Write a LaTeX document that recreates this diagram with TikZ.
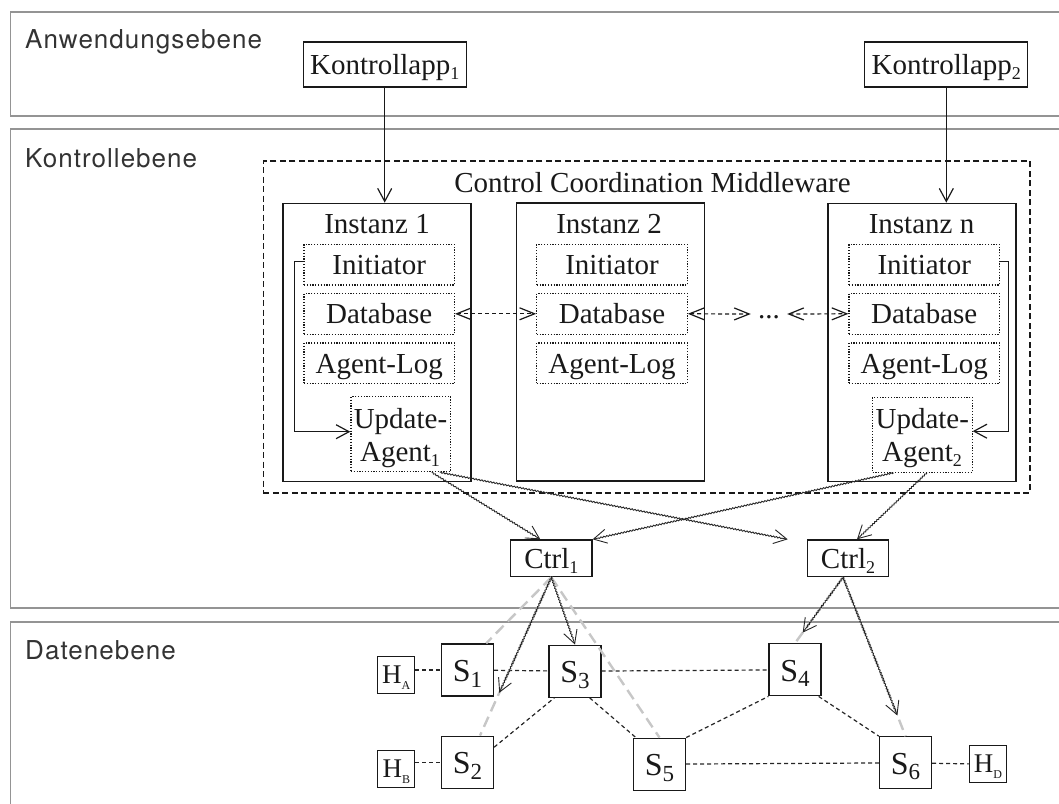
\documentclass[tikz,border=0pt]{standalone}
\usepackage{fontspec}
\setmainfont{Liberation Serif}
\newfontfamily\layerfont[LetterSpace=4]{TeX Gyre Heros}
\usetikzlibrary{arrows.meta,decorations.pathmorphing,calc}

\newcommand\nfont{\fontsize{29}{34}\selectfont}
\newcommand\lowsub[1]{\raisebox{-5pt}{\fontsize{18}{18}\selectfont #1}}
\newcommand\swsub[1]{\raisebox{-5.5pt}{\fontsize{23}{23}\selectfont #1}}
\newcommand\hostsub[1]{\raisebox{-6pt}{\fontsize{12}{12}\selectfont #1}}

\begin{document}
\begin{tikzpicture}[x=1pt, y=-1pt,
  layer/.style={draw=black!42, line width=1.6pt},
  layertitle/.style={font=\layerfont\fontsize{26}{30}\selectfont, text=black!80, anchor=base west, inner sep=0pt},
  txt/.style={font=\nfont, text=black!90, inner sep=0pt},
  boxtxt/.style={txt, text height=20pt, text depth=0pt},
  app/.style={boxtxt, draw=black!90, line width=1.3pt, minimum width=163pt, minimum height=45pt},
  inst/.style={draw=black!90, line width=1.7pt, minimum width=188pt, minimum height=278pt, inner sep=0pt},
  comp/.style={boxtxt, draw=black!90, line width=1.2pt, dash pattern=on 1.2pt off 1.6pt, minimum width=150.4pt, minimum height=40.7pt},
  agentbox/.style={draw=black!90, line width=1.2pt, dash pattern=on 1.2pt off 1.6pt, minimum width=99.6pt, minimum height=75pt, inner sep=0pt},
  mw/.style={draw=black!90, line width=1.5pt, dash pattern=on 6pt off 3.5pt, minimum width=766.7pt, minimum height=332pt, inner sep=0pt},
  ctrlbox/.style={boxtxt, draw=black!90, line width=1.3pt, minimum width=81.3pt, minimum height=36.7pt},
  switch/.style={txt, font=\fontsize{32}{36}\selectfont, text height=23pt, text depth=0pt, draw=black!90, line width=1.3pt, minimum size=52pt},
  host/.style={txt, font=\fontsize{27}{30}\selectfont, text height=17pt, text depth=0pt, draw=black!90, line width=1.2pt, minimum size=37pt},
  arr/.style={draw=black!90, line width=1.2pt, -{Straight Barb[length=13pt, width=14pt]}},
  dbarr/.style={draw=black!90, line width=1.2pt, dash pattern=on 4pt off 3pt,
    {Straight Barb[length=15pt, width=12pt]}-{Straight Barb[length=15pt, width=12pt]}},
  snk/.style={draw=black!85, line width=0.9pt, -{Straight Barb[length=13pt, width=14pt]},
    decorate, decoration={snake, amplitude=0.6pt, segment length=3pt, post length=5pt}},
  link/.style={draw=black!85, line width=1.2pt, dash pattern=on 4pt off 3pt},
  ctl/.style={draw=black!22, line width=2.4pt, dash pattern=on 11pt off 6pt},
]
\useasboundingbox (0,0) rectangle (1059,803);
\clip (0,0) rectangle (1059,803);

% layers
\draw[layer] (10.5,12) rectangle (1080,116);
\draw[layer] (10.5,129) rectangle (1080,608);
\draw[layer] (10.5,622) rectangle (1080,830);
\node[layertitle] (lAnw) at (25,48) {Anwendungsebene};
\node[layertitle] (lKon) at (25,167) {Kontrollebene};
\node[layertitle] (lDat) at (25,659) {Datenebene};

% applications
\node[app] (app1) at (384.7,64.5) {Kontrollapp\lowsub{1}};
\node[app] (app2) at (946.3,64.5) {Kontrollapp\lowsub{2}};

% middleware and its instances
\node[mw] (mw) at (646.7,327) {};
\node[txt, anchor=base] (mwtitle) at (652.5,192) {Control Coordination Middleware};

\node[inst] (inst1) at (377.3,342.5) {};
\node[inst] (inst2) at (610.5,342.2) {};
\node[inst] (instn) at (922.2,342.5) {};
\node[txt, anchor=base] (t1) at (377,233) {Instanz 1};
\node[txt, anchor=base] (t2) at (609,233) {Instanz 2};
\node[txt, anchor=base] (tn) at (921.5,233) {Instanz n};

\node[comp] (init1) at (379.2,264.7) {Initiator};
\node[comp] (db1)   at (379.2,313.8) {Database};
\node[comp] (log1)  at (379.2,363.3) {Agent-Log};
\node[comp] (init2) at (612,264.7) {Initiator};
\node[comp] (db2)   at (612,313.8) {Database};
\node[comp] (log2)  at (612,363.3) {Agent-Log};
\node[comp] (initn) at (924.2,264.7) {Initiator};
\node[comp] (dbn)   at (924.2,313.8) {Database};
\node[comp] (logn)  at (924.2,363.3) {Agent-Log};

\node[agentbox] (ua1) at (400.7,434.2) {};
\node[txt, anchor=base] (ua1a) at (400.5,428) {Update-};
\node[txt, anchor=base] (ua1b) at (400,461.7) {Agent\lowsub{1}};
\node[agentbox] (uan) at (922.3,434.7) {};
\node[txt, anchor=base] (uana) at (922.3,428.3) {Update-};
\node[txt, anchor=base] (uanb) at (922,461.7) {Agent\lowsub{2}};

\node[txt, text height=8pt, text depth=0pt, minimum width=36pt] (dots) at (769,314) {...};

% controllers
\node[ctrlbox] (ctrl1) at (551.3,558.3) {Ctrl\lowsub{1}};
\node[ctrlbox] (ctrl2) at (848,558.3) {Ctrl\lowsub{2}};

% data plane
\node[host] (HA) at (396.3,675) {H\hostsub{A}};
\node[host] (HB) at (396.3,769) {H\hostsub{B}};
\node[host] (HD) at (988,764.2) {H\hostsub{D}};
\node[switch] (S1) at (467.5,670) {S\swsub{1}};
\node[switch] (S2) at (467.5,762.2) {S\swsub{2}};
\node[switch] (S3) at (575,671.2) {S\swsub{3}};
\node[switch] (S4) at (795,669.8) {S\swsub{4}};
\node[switch] (S5) at (659.5,764.2) {S\swsub{5}};
\node[switch] (S6) at (905.5,762.8) {S\swsub{6}};

% application to instance
\draw[arr] (app1.south) -- (app1.south |- inst1.north);
\draw[arr] (app2.south) -- (app2.south |- instn.north);

% internal loops initiator -> update agent
\draw[arr] ([yshift=3.5pt]init1.west) -- ++(-9,0) |- ([yshift=2.5pt]ua1.west);
\draw[arr] ([yshift=3.5pt]initn.east) -- ++(8.5,0) |- ([yshift=3.5pt]uan.east);

% database synchronisation
\draw[dbarr] (db1.east) -- (db2.west);
\draw[dbarr] (db2.east) -- (dots.west);
\draw[dbarr] (dots.east) -- (dbn.west);

% update agents to controllers
\draw[snk] ([xshift=31pt]ua1.south) -- ([xshift=-11pt]ctrl1.north);
\draw[snk] ([xshift=39pt]ua1.south) -- ([xshift=-19pt]ctrl2.north west);
\draw[snk] ([xshift=-29pt]uan.south) -- (ctrl1.north east);
\draw[snk] ([xshift=4.5pt]uan.south) -- ([xshift=9pt]ctrl2.north);

% data plane links
\draw[link] (S1.west -| HA.east) -- (S1.west);
\draw[link] (S1) -- (S3);
\draw[link] (S3) -- (S4);
\draw[link] (S2.west -| HB.east) -- (S2.west);
\draw[link] ([yshift=15pt]S2.east) -- ([xshift=6pt]S3.south west);
\draw[link] ([xshift=-12pt]S3.south east) -- ([xshift=3pt]S5.north west);
\draw[link] (S5.north east) -- (S4.south west);
\draw[link] ([xshift=-3pt]S4.south east) -- (S6.north west);
\draw[link] (S5) -- (S6);
\draw[link] (S6) -- (HD);

% control channels
\coordinate (c1o) at (ctrl1.south);
\coordinate (c2o) at ([xshift=-5pt]ctrl2.south);
\coordinate (s1hit) at ([xshift=-8pt]S1.north east);
\coordinate (s2hit) at ([xshift=12.5pt]S2.north);
\draw[ctl] (c1o) -- (s1hit);
\draw[ctl] (c1o) -- (s2hit);
\draw[ctl] (c1o) -- (S5.north);
\draw[ctl] (c2o) -- (S4.north);
\draw[ctl] (c2o) -- (S6.north);

% update messages to switches
\coordinate (tipS2) at ($(c1o)!0.73!(s2hit)$);
\coordinate (tipS4) at ($(c2o)!0.84!(S4.north)$);
\coordinate (tipS6) at ($(c2o)!0.87!(S6.north)$);
\draw[snk] (c1o) -- (S3.north);
\draw[snk] (c1o) -- (tipS2);
\draw[snk] (c2o) -- (tipS4);
\draw[snk] (c2o) -- (tipS6);
\end{tikzpicture}
\end{document}
